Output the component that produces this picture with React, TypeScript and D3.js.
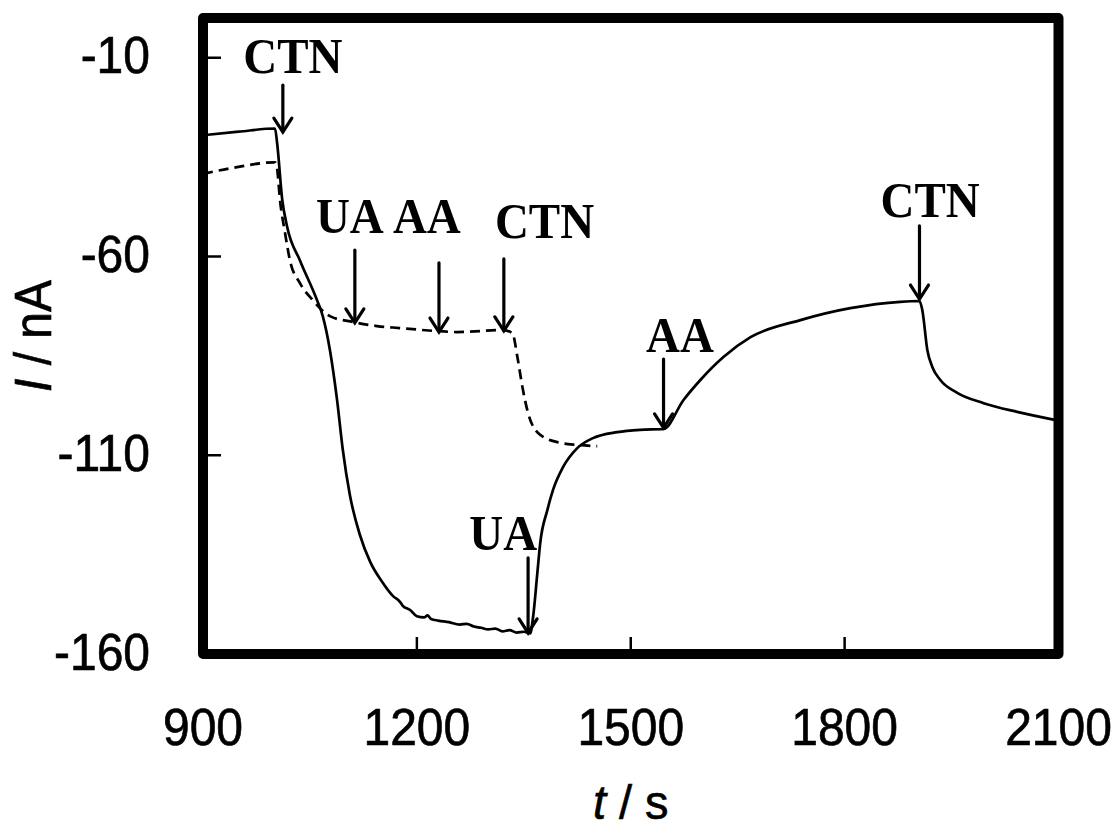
import React from "react";
import * as d3 from "d3";

// Solid trace (time s, current nA)
const solidT = [900, 950, 1001, 1004, 1011, 1018, 1036, 1060, 1068, 1078, 1088, 1096, 1106, 1120, 1135, 1150, 1167, 1176, 1180, 1191, 1200, 1210, 1215, 1220, 1230, 1245, 1260, 1270, 1280, 1290, 1300, 1310, 1320, 1330, 1340, 1350, 1359, 1363, 1369, 1373, 1383, 1391, 1405, 1425, 1447, 1481, 1513, 1546, 1574, 1598, 1630, 1668, 1738, 1808, 1878, 1905, 1909, 1916, 1923, 1934, 1958, 1995, 2042, 2100];
const solidI = [-29.5, -28.6, -27.8, -31.5, -45.5, -52.5, -61, -71, -75, -83.5, -96, -108.5, -120, -130, -137, -141.5, -145.5, -146.8, -147.8, -149, -150.5, -150.8, -150.3, -151.2, -151.6, -152, -152.6, -152.4, -153.1, -153.4, -153.8, -153.6, -154.3, -154.0, -154.6, -154.4, -154.8, -150.7, -139.6, -132.1, -123.8, -118.7, -113, -108.2, -105.7, -104.2, -103.6, -103.4, -96.1, -91, -85.3, -80.3, -76, -73, -71.4, -71.2, -73.5, -83.5, -87.8, -91, -94.3, -96.9, -99.1, -101.3];

// Dashed trace
const dashT = [900, 942, 1001, 1004, 1008, 1015, 1022, 1036, 1054, 1078, 1111, 1144, 1176, 1232, 1256, 1321, 1334, 1341, 1348, 1356, 1370, 1397, 1425, 1453];
const dashI = [-39.2, -37.7, -36.3, -38, -45.8, -54, -61, -66.7, -71, -75, -76.5, -77.5, -78, -78.8, -79, -78.5, -79.3, -85.3, -92.8, -99.4, -104.4, -106.7, -107.4, -107.7];

// Annotations: label, label position (t, I), arrow t, arrow top I, arrow tip I
const noteLabels = ["CTN", "UA", "AA", "CTN", "UA", "AA", "CTN"];
const noteLabelT = [1026, 1106, 1214, 1379, 1321, 1569, 1920];
const noteLabelI = [-13.8, -54.1, -54.1, -55.3, -133.8, -84.0, -50.1];
const arrowT = [1012, 1113, 1231, 1322, 1356, 1546, 1905];
const arrowTopI = [-16.9, -58.4, -61.6, -60.6, -135.8, -85.8, -52.3];
const arrowTipI = [-28.7, -76.7, -79, -78.7, -154.7, -103.1, -70.7];

const xTicks = [900, 1200, 1500, 1800, 2100];
const yTicks = [-10, -60, -110, -160];

const W = 1120;
const H = 831;
const left = 203;
const right = 1058.5;
const top = 18;
const bottom = 654;

export default function App() {
  const x = d3.scaleLinear().domain([900, 2100]).range([left, right]);
  const y = d3.scaleLinear().domain([-160, 0]).range([bottom, top]);

  const line = d3
    .line<[number, number]>()
    .x((d) => x(d[0]))
    .y((d) => y(d[1]))
    .curve(d3.curveMonotoneX);

  const solid = solidT.map((t, i) => [t, solidI[i]] as [number, number]);
  const dashed = dashT.map((t, i) => [t, dashI[i]] as [number, number]);

  const sans = "'Liberation Sans', Arial, sans-serif";
  const serif = "'Liberation Serif', 'Times New Roman', serif";
  const sy = 1.08;

  return (
    <svg width={W} height={H} style={{ position: "absolute", left: 0, top: 0, background: "#fff" }}>
      <rect x={0} y={0} width={W} height={H} fill="#fff" />
      {/* curves */}
      <path d={line(dashed) || ""} fill="none" stroke="#000" strokeWidth={2.7} strokeDasharray="10,6" />
      <path d={line(solid) || ""} fill="none" stroke="#000" strokeWidth={2.7} strokeLinejoin="round" />

      {/* arrows */}
      {arrowT.map((t, i) => {
        const ax = x(t);
        const y0 = y(arrowTopI[i]);
        const y1 = y(arrowTipI[i]);
        return (
          <g key={"a" + i} stroke="#000" strokeWidth={3.2} fill="none" strokeLinecap="round" strokeLinejoin="miter">
            <line x1={ax} y1={y0} x2={ax} y2={y1 - 1} />
            <polyline points={`${ax - 9},${y1 - 14} ${ax},${y1} ${ax + 9},${y1 - 14}`} />
          </g>
        );
      })}

      {/* annotation labels */}
      {noteLabels.map((s, i) => (
        <text
          key={"l" + i}
          transform={`translate(${x(noteLabelT[i])},${y(noteLabelI[i])}) scale(1,${sy})`}
          textAnchor="middle"
          fontFamily={serif}
          fontWeight="bold"
          fontSize={47}
        >
          {s}
        </text>
      ))}

      {/* ticks */}
      {yTicks.slice(0, 3).map((v) => (
        <line key={"yt" + v} x1={left} x2={left + 18} y1={y(v)} y2={y(v)} stroke="#000" strokeWidth={2.5} />
      ))}
      {xTicks.slice(1, 4).map((v) => (
        <line key={"xt" + v} x1={x(v)} x2={x(v)} y1={bottom} y2={bottom - 17} stroke="#000" strokeWidth={2.5} />
      ))}

      {/* frame */}
      <rect
        x={left}
        y={top}
        width={right - left}
        height={bottom - top}
        fill="none"
        stroke="#000"
        strokeWidth={10}
        strokeLinejoin="round"
      />

      {/* tick labels */}
      {yTicks.map((v) => (
        <text
          key={"yl" + v}
          transform={`translate(150,${y(v) + 15.5}) scale(1,${sy})`}
          textAnchor="end"
          fontFamily={sans}
          fontSize={48}
          stroke="#000"
          strokeWidth={0.6}
        >
          {v}
        </text>
      ))}
      {xTicks.map((v) => (
        <text
          key={"xl" + v}
          transform={`translate(${x(v)},745) scale(1,${sy})`}
          textAnchor="middle"
          fontFamily={sans}
          fontSize={48}
          stroke="#000"
          strokeWidth={0.6}
        >
          {v}
        </text>
      ))}

      {/* axis titles */}
      <text
        transform={`translate(${(left + right) / 2},819) scale(1,1.04)`}
        textAnchor="middle"
        fontFamily={sans}
        fontSize={47}
        stroke="#000"
        strokeWidth={0.6}
      >
        <tspan fontStyle="italic">t</tspan>
        <tspan> / s</tspan>
      </text>
      <text
        transform={`translate(51,${(top + bottom) / 2}) rotate(-90) scale(1,${sy})`}
        textAnchor="middle"
        fontFamily={sans}
        fontSize={48}
        stroke="#000"
        strokeWidth={0.6}
      >
        <tspan fontStyle="italic">I</tspan>
        <tspan> / nA</tspan>
      </text>
    </svg>
  );
}
